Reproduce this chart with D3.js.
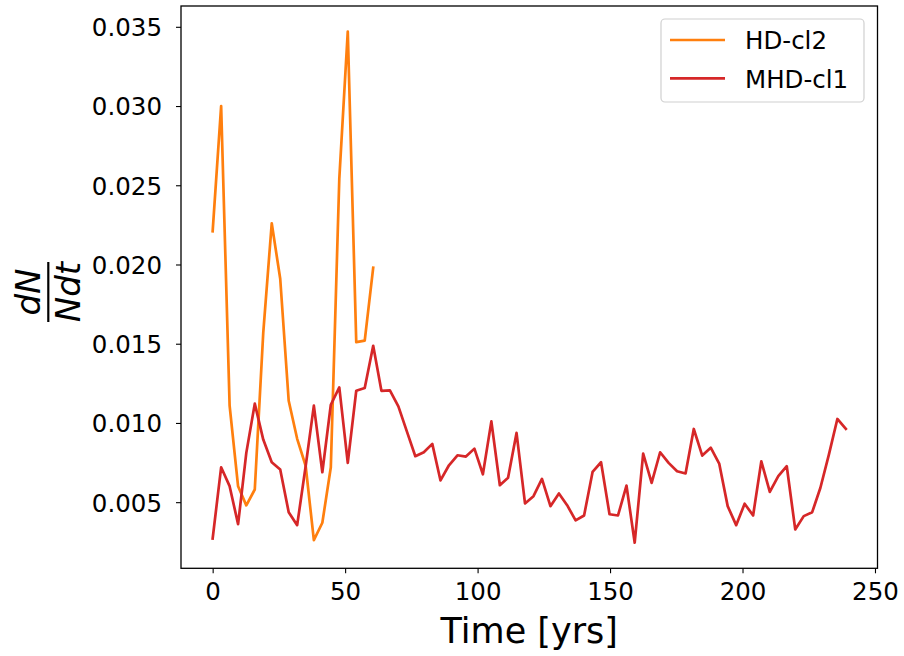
<!DOCTYPE html>
<html>
<head>
<meta charset="utf-8">
<script src="https://cdn.jsdelivr.net/npm/d3@7"></script>
<style>
  body { margin: 0; background: #fff; }
  text { font-family: "DejaVu Sans", sans-serif; fill: #000; }
</style>
</head>
<body>
<div id="chart"></div>
<script>
// time axis (yrs) of the HD-cl2 run
const hdTime = [0, 3.2, 6.4, 9.6, 12.7, 15.9, 19.1, 22.3, 25.5, 28.7, 31.9, 35.1, 38.2, 41.4, 44.6, 47.8, 51.0, 54.2, 57.4, 60.6];
const hdValues = [0.0221, 0.0300, 0.0111, 0.0060, 0.0048, 0.0058, 0.0157, 0.0226, 0.0191, 0.0114,
                  0.0090, 0.0073, 0.0026, 0.0037, 0.0072, 0.0254, 0.0347, 0.0151, 0.0152, 0.0198];

// time axis (yrs) of the MHD-cl1 run
const mhdTime = [0, 3.2, 6.4, 9.6, 12.7, 15.9, 19.1, 22.3, 25.5, 28.7,
                 31.9, 35.1, 38.2, 41.4, 44.6, 47.8, 51.0, 54.2, 57.4, 60.6,
                 63.7, 66.9, 70.1, 73.3, 76.5, 79.7, 82.9, 86.0, 89.2, 92.4,
                 95.6, 98.8, 102.0, 105.2, 108.4, 111.5, 114.7, 117.9, 121.1, 124.3,
                 127.5, 130.7, 133.8, 137.0, 140.2, 143.4, 146.6, 149.8, 153.0, 156.2,
                 159.3, 162.5, 165.7, 168.9, 172.1, 175.3, 178.5, 181.6, 184.8, 188.0,
                 191.2, 194.4, 197.6, 200.8, 204.0, 207.1, 210.3, 213.5, 216.7, 219.9,
                 223.1, 226.3, 229.4, 232.6, 235.8, 239.0];
const mhdValues = [0.00271, 0.00720, 0.00601, 0.00361, 0.00811, 0.01122, 0.00895, 0.00752, 0.00706, 0.00437,
                   0.00355, 0.00727, 0.01109, 0.00689, 0.01115, 0.01224, 0.00748, 0.01203, 0.01220, 0.01487,
                   0.01203, 0.01205, 0.01105, 0.00947, 0.00790, 0.00815, 0.00868, 0.00637, 0.00733, 0.00796,
                   0.00788, 0.00838, 0.00676, 0.01010, 0.00607, 0.00654, 0.00937, 0.00492, 0.00538, 0.00647,
                   0.00475, 0.00555, 0.00481, 0.00385, 0.00416, 0.00691, 0.00752, 0.00424, 0.00416, 0.00605,
                   0.00244, 0.00807, 0.00622, 0.00815, 0.00748, 0.00695, 0.00681, 0.00962, 0.00794, 0.00844,
                   0.00744, 0.00475, 0.00355, 0.00490, 0.00416, 0.00758, 0.00565, 0.00664, 0.00727, 0.00328,
                   0.00412, 0.00437, 0.00591, 0.00800, 0.01025, 0.00962];

const xTicks = [0, 50, 100, 150, 200, 250];
const yTicks = [0.005, 0.010, 0.015, 0.020, 0.025, 0.030, 0.035];

const series = [
  {name: "HD-cl2", color: "#ff7f0e", time: hdTime, values: hdValues},
  {name: "MHD-cl1", color: "#d62728", time: mhdTime, values: mhdValues}
];

const width = 904, height = 656;
const plotLeft = 181, plotRight = 877.5, plotTop = 6, plotBottom = 568.3;

const svg = d3.select("#chart").append("svg")
  .attr("width", width)
  .attr("height", height);

// matplotlib style 5% margins around the data
const allT = hdTime.concat(mhdTime);
const allV = hdValues.concat(mhdValues);
const tExt = d3.extent(allT), vExt = d3.extent(allV);
const tPad = (tExt[1] - tExt[0]) * 0.05, vPad = (vExt[1] - vExt[0]) * 0.05;

const x = d3.scaleLinear().domain([tExt[0] - tPad, tExt[1] + tPad]).range([plotLeft, plotRight]);
const y = d3.scaleLinear().domain([vExt[0] - vPad, vExt[1] + vPad]).range([plotBottom, plotTop]);

const line = d3.line().x(d => x(d[0])).y(d => y(d[1]));

const plot = svg.append("g");
series.forEach(s => {
  plot.append("path")
    .datum(d3.zip(s.time, s.values))
    .attr("d", line)
    .attr("fill", "none")
    .attr("stroke", s.color)
    .attr("stroke-width", 2.7)
    .attr("stroke-linejoin", "round")
    .attr("stroke-linecap", "square");
});

// axes
const xAxis = svg.append("g")
  .attr("transform", `translate(0, ${plotBottom})`)
  .call(d3.axisBottom(x).tickValues(xTicks).tickSize(5).tickPadding(9).tickFormat(d3.format("d")));
const yAxis = svg.append("g")
  .attr("transform", `translate(${plotLeft}, 0)`)
  .call(d3.axisLeft(y).tickValues(yTicks).tickSize(5).tickPadding(14).tickFormat(d3.format(".3f")));

[xAxis, yAxis].forEach(a => {
  a.select(".domain").remove();
  a.selectAll(".tick line").attr("stroke", "#000").attr("stroke-width", 1.1);
  a.selectAll(".tick text").attr("font-size", 24.5).attr("font-family", "DejaVu Sans").attr("fill", "#000");
});
xAxis.selectAll(".tick text").attr("dy", "0.71em");
yAxis.selectAll(".tick text").attr("dy", "0.36em");

// frame
svg.append("rect")
  .attr("x", plotLeft).attr("y", plotTop)
  .attr("width", plotRight - plotLeft).attr("height", plotBottom - plotTop)
  .attr("fill", "none").attr("stroke", "#000").attr("stroke-width", 1.3);

// x label
svg.append("text")
  .attr("x", (plotLeft + plotRight) / 2).attr("y", 643)
  .attr("text-anchor", "middle")
  .attr("font-size", 35)
  .text("Time [yrs]");

// y label, dN / Ndt fraction rotated
const yl = svg.append("g").attr("transform", "translate(48.3, 292) rotate(-90)");
yl.append("text").attr("x", 0).attr("y", -8)
  .attr("text-anchor", "middle").attr("font-size", 34).attr("font-style", "italic")
  .text("dN");
yl.append("line").attr("x1", -30).attr("x2", 30).attr("y1", 0).attr("y2", 0)
  .attr("stroke", "#000").attr("stroke-width", 2.2);
yl.append("text").attr("x", 0).attr("y", 31.5)
  .attr("text-anchor", "middle").attr("font-size", 34).attr("font-style", "italic")
  .text("Ndt");

// legend
const lg = svg.append("g");
lg.append("rect")
  .attr("x", 661).attr("y", 19).attr("width", 203).attr("height", 83)
  .attr("rx", 4).attr("fill", "#fff").attr("fill-opacity", 0.8)
  .attr("stroke", "#d0d0d0").attr("stroke-width", 1.2);
series.forEach((s, i) => {
  const ly = 40 + i * 38.3;
  lg.append("line").attr("x1", 670).attr("x2", 725).attr("y1", ly).attr("y2", ly)
    .attr("stroke", s.color).attr("stroke-width", 2.7);
  lg.append("text").attr("x", 745).attr("y", ly + 9.3)
    .attr("font-size", 24.5).text(s.name);
});
</script>
</body>
</html>
